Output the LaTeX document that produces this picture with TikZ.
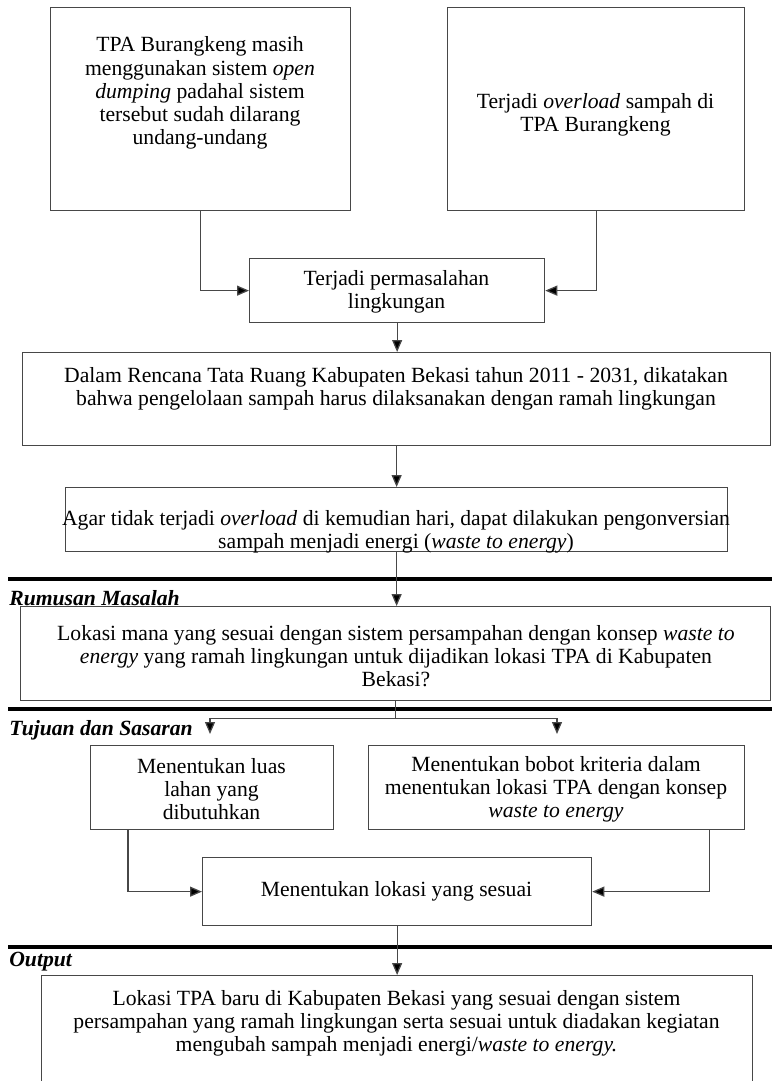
\documentclass[tikz,border=0pt]{standalone}
\usepackage{fontspec}
\setmainfont{Liberation Serif}
\usetikzlibrary{arrows.meta,calc}
\newcommand\mybox[5]{\node[box,minimum width={(#3-#1)*0.6pt},minimum height={(#4-#2)*0.6pt}] (#5) at (#1,#2) {};}
\begin{document}
\begin{tikzpicture}[x=0.6pt,y=-0.6pt,
 box/.style={draw=black!72, line width=0.75pt, inner sep=0pt, anchor=north west},
 txt/.style={align=center, inner sep=0pt, font=\fontsize{13}{13.9}\selectfont},
 arr/.style={draw=black!72, line width=0.75pt, -{Triangle[length=7.2pt,width=6pt,fill=black]}},
 ln/.style={draw=black!72, line width=0.75pt},
 sep/.style={line width=2.7pt, black},
 sec/.style={anchor=west, inner sep=0pt, font=\fontsize{13}{13.9}\selectfont\bfseries\itshape}]
\useasboundingbox (0,0) rectangle (772,1081);
\clip (0,0) rectangle (772,1081);
% boxes
\mybox{50}{7}{350}{210}{a}
\mybox{447}{7}{744}{210}{b}
\mybox{249}{258}{544}{322}{m}
\mybox{22}{352}{770}{445}{c}
\mybox{65}{487}{727}{551}{d}
\mybox{20}{606}{770}{700}{e}
\mybox{90}{745}{333}{829}{f}
\mybox{368}{745}{744}{829}{g}
\mybox{202}{857}{591}{925}{h}
\mybox{41}{975}{752}{1100}{i}
% texts
\node[txt] (at) at (200,93) {TPA Burangkeng masih\\ menggunakan sistem \textit{open}\\ \textit{dumping} padahal sistem\\ tersebut sudah dilarang\\ undang-undang};
\node[txt] (bt) at (595.5,114.5) {Terjadi \textit{overload} sampah di\\ TPA Burangkeng};
\node[txt] (mt) at (396.5,291.5) {Terjadi permasalahan\\ lingkungan};
\node[txt] (ct) at (396,389) {Dalam Rencana Tata Ruang Kabupaten Bekasi tahun 2011 - 2031, dikatakan\\ bahwa pengelolaan sampah harus dilaksanakan dengan ramah lingkungan};
\node[txt] (dt) at (396,532) {Agar tidak terjadi \textit{overload} di kemudian hari, dapat dilakukan pengonversian\\ sampah menjadi energi (\textit{waste to energy})};
\node[txt] (et) at (396,656) {Lokasi mana yang sesuai dengan sistem persampahan dengan konsep \textit{waste to}\\ \textit{energy} yang ramah lingkungan untuk dijadikan lokasi TPA di Kabupaten\\ Bekasi?};
\node[txt] (ft) at (211.5,789) {Menentukan luas\\ lahan yang\\ dibutuhkan};
\node[txt] (gt) at (556,789) {Menentukan bobot kriteria dalam\\ menentukan lokasi TPA dengan konsep\\ \textit{waste to energy}};
\node[txt] (ht) at (396.5,891) {Menentukan lokasi yang sesuai};
\node[txt] (it) at (396.5,1023.5) {Lokasi TPA baru di Kabupaten Bekasi yang sesuai dengan sistem\\ persampahan yang ramah lingkungan serta sesuai untuk diadakan kegiatan\\ mengubah sampah menjadi energi/\textit{waste to energy.}};
% separators and section labels
\draw[sep] (8,579) -- (772,579);
\draw[sep] (8,709) -- (772,709);
\draw[sep] (8,947) -- (772,947);
\node[sec] (rm) at (9,598) {Rumusan Masalah};
\node[sec] (td) at (9,730) {Tujuan dan Sasaran};
\node[sec] (op) at (9,962) {Output};
% connectors
\draw[arr] (a.south) |- (m.west);
\draw[arr] (b.south) |- (m.east);
\draw[arr] (m.south) -- (m.south |- c.north);
\draw[arr] (c.south) -- (c.south |- d.north);
\draw[arr] (d.south) -- (d.south |- e.north);
\path (e.south) ++(0,17) coordinate (br);
\coordinate (fa) at (210,734);
\coordinate (ga) at (557,734);
\draw[ln] (e.south) -- (br);
\draw[arr] (br) -| (fa);
\draw[arr] (br) -| (ga);
\draw[arr] ($(f.south west)+(38,0)$) |- (h.west);
\draw[arr] ($(g.south east)+(-36,0)$) |- (h.east);
\draw[arr] (h.south) -- (h.south |- i.north);
\end{tikzpicture}
\end{document}
